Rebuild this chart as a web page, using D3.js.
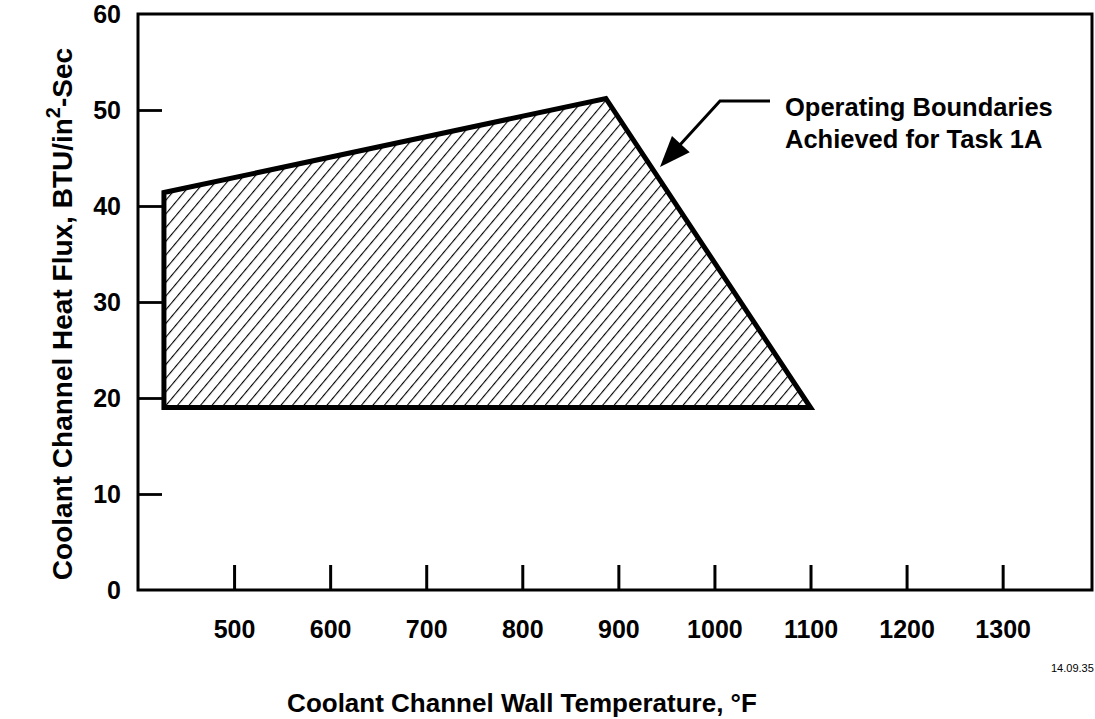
<!DOCTYPE html>
<html>
<head>
<meta charset="utf-8">
<script src="https://cdn.jsdelivr.net/npm/d3@7/dist/d3.min.js"></script>
<style>
  html, body { margin: 0; padding: 0; background: #fff; }
  svg { display: block; }
  text { font-family: "Liberation Sans", Arial, Helvetica, sans-serif; font-weight: bold; fill: #000; }
</style>
</head>
<body>
<script>
// ---- data ----
const xTickValues = [500, 600, 700, 800, 900, 1000, 1100, 1200, 1300];
const yTickValues = [0, 10, 20, 30, 40, 50, 60];
const xDomain = [400, 1393];
const yDomain = [0, 60];
const boundaryTemp = [427, 887, 1100, 427];
const boundaryFlux = [41.4, 51.2, 19, 19];
const annotationLines = ["Operating Boundaries", "Achieved for Task 1A"];
const xTitle = "Coolant Channel Wall Temperature, °F";
const figureId = "14.09.35";

(function () {
// ---- layout ----
const W = 1095, H = 719;
const mL = 138, mR = 1092, mT = 14, mB = 590;

const svg = d3.select("body").append("svg").attr("width", W).attr("height", H);

const x = d3.scaleLinear().domain(xDomain).range([mL, mR]);
const y = d3.scaleLinear().domain(yDomain).range([mB, mT]);

// hatch pattern
const defs = svg.append("defs");
const pat = defs.append("pattern")
  .attr("id", "hatch")
  .attr("patternUnits", "userSpaceOnUse")
  .attr("width", 8.8).attr("height", 8.8)
  .attr("patternTransform", "rotate(40)");
pat.append("line")
  .attr("x1", 0).attr("y1", 0).attr("x2", 0).attr("y2", 8.8)
  .attr("stroke", "#000").attr("stroke-width", 2.2);

// boundary polygon
const pts = boundaryTemp.map((t, i) => [x(t), y(boundaryFlux[i])]);
svg.append("path")
  .attr("d", d3.line()(pts) + "Z")
  .attr("fill", "url(#hatch)")
  .attr("stroke", "#000")
  .attr("stroke-width", 5)
  .attr("stroke-linejoin", "miter");

// frame
svg.append("rect")
  .attr("x", mL).attr("y", mT)
  .attr("width", mR - mL).attr("height", mB - mT)
  .attr("fill", "none").attr("stroke", "#000").attr("stroke-width", 3);

// x axis ticks (inward)
const xAxis = d3.axisBottom(x).tickValues(xTickValues).tickFormat(d3.format("d")).tickSize(0).tickPadding(0);
const gx = svg.append("g").attr("transform", `translate(0,${mB})`).call(xAxis);
gx.select(".domain").remove();
gx.selectAll(".tick line").remove();
gx.selectAll(".tick").append("line")
  .attr("x1", 0).attr("x2", 0).attr("y1", 0).attr("y2", -25)
  .attr("stroke", "#000").attr("stroke-width", 3);
gx.selectAll(".tick text")
  .attr("y", 48)
  .attr("dy", null)
  .style("font-size", "25px")
  .style("font-family", "'Liberation Sans', Arial, sans-serif")
  .style("font-weight", "bold");

// y axis ticks (inward)
const yAxis = d3.axisLeft(y).tickValues(yTickValues).tickSize(0).tickPadding(0);
const gy = svg.append("g").attr("transform", `translate(${mL},0)`).call(yAxis);
gy.select(".domain").remove();
gy.selectAll(".tick line").remove();
gy.selectAll(".tick").filter(d => d > yDomain[0] && d < yDomain[1]).append("line")
  .attr("x1", 0).attr("x2", 24).attr("y1", 0).attr("y2", 0)
  .attr("stroke", "#000").attr("stroke-width", 2.8);
gy.selectAll(".tick text")
  .attr("x", -17)
  .attr("dy", "0.35em")
  .style("font-size", "25px")
  .style("font-family", "'Liberation Sans', Arial, sans-serif")
  .style("font-weight", "bold");

// axis titles
svg.append("text")
  .attr("x", 522).attr("y", 712)
  .attr("text-anchor", "middle")
  .style("font-size", "26px")
  .text(xTitle);

const yt = svg.append("text")
  .attr("transform", "translate(72,314) rotate(-90)")
  .attr("text-anchor", "middle")
  .style("font-size", "28px");
yt.append("tspan").text("Coolant Channel Heat Flux, BTU/in");
yt.append("tspan").attr("dy", -12).style("font-size", "20px").text("2");
yt.append("tspan").attr("dy", 12).text("-Sec");

// annotation arrow
const arrowPts = [[770, 101], [720, 101], [668, 158]];
svg.append("path")
  .attr("d", d3.line()(arrowPts))
  .attr("fill", "none").attr("stroke", "#000").attr("stroke-width", 3);
const tip = [660, 167];
const ang = Math.atan2(tip[1] - 101, tip[0] - 720);
const hl = 31, hw = 12;
const bx = tip[0] - hl * Math.cos(ang), by = tip[1] - hl * Math.sin(ang);
const px = -Math.sin(ang) * hw, py = Math.cos(ang) * hw;
svg.append("path")
  .attr("d", `M${tip[0]},${tip[1]}L${bx + px},${by + py}L${bx - px},${by - py}Z`)
  .attr("fill", "#000");

const ann = svg.append("text").attr("x", 785).attr("y", 116).style("font-size", "25.5px");
annotationLines.forEach((s, i) => {
  ann.append("tspan").attr("x", 785).attr("dy", i === 0 ? 0 : 32).text(s);
});

svg.append("text")
  .attr("x", 1051).attr("y", 672)
  .style("font-size", "11px")
  .style("font-weight", "normal")
  .text(figureId);
})();
</script>
</body>
</html>
